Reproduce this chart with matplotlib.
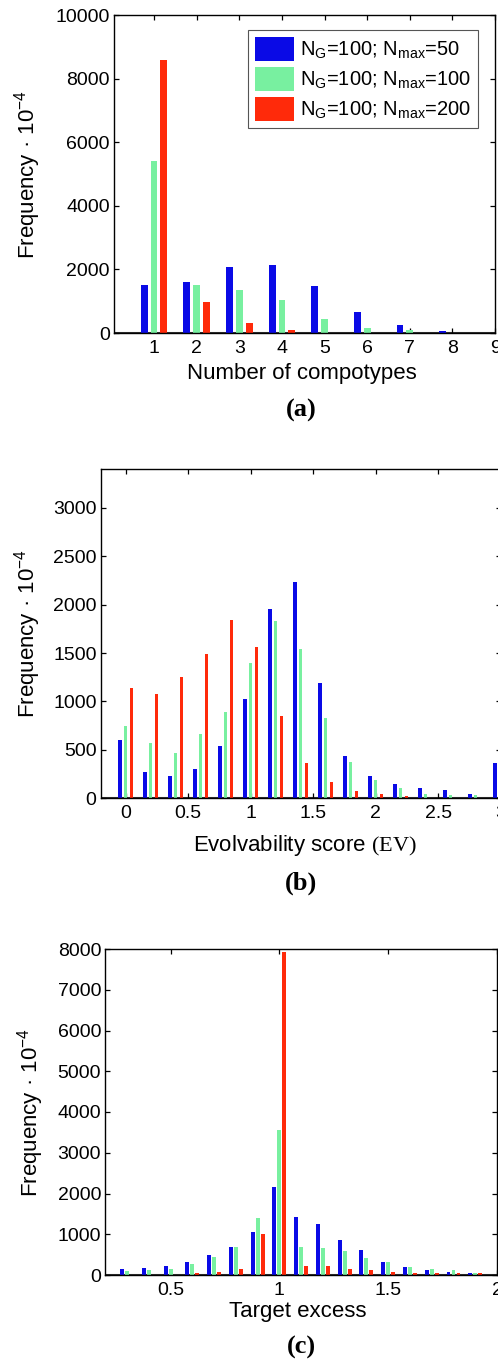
import matplotlib
matplotlib.use('Agg')
import matplotlib.pyplot as plt
import numpy as np


# цвета серий (как jet(3) в MATLAB, немного приглушённые)
colors = ['#0a0ae6', '#78f0a0', '#ff2a0a']
labels = [r'N$_{\rm G}$=100; N$_{\rm max}$=50',
          r'N$_{\rm G}$=100; N$_{\rm max}$=100',
          r'N$_{\rm G}$=100; N$_{\rm max}$=200']

# (a) число компотипов
comp_x = [1, 2, 3, 4, 5, 6, 7, 8, 9]
comp_50 = [1520, 1600, 2080, 2130, 1470, 660, 260, 50, 10]
comp_100 = [5410, 1520, 1340, 1030, 450, 150, 110, 10, 5]
comp_200 = [8580, 975, 315, 100, 10, 0, 0, 0, 0]

# (b) evolvability score
ev_x = [0.0, 0.2, 0.4, 0.6, 0.8, 1.0, 1.2, 1.4, 1.6, 1.8, 2.0, 2.2, 2.4, 2.6, 2.8, 3.0]
ev_50 = [600, 270, 230, 300, 535, 1025, 1955, 2230, 1190, 438, 231, 145, 103, 86, 41, 369]
ev_100 = [750, 576, 472, 659, 893, 1397, 1834, 1541, 834, 376, 186, 110, 41, 31, 34, 0]
ev_200 = [1135, 1080, 1252, 1490, 1838, 1566, 852, 369, 166, 76, 41, 24, 5, 3, 0, 0]

# (c) target excess
te_x = [0.3, 0.4, 0.5, 0.6, 0.7, 0.8, 0.9, 1.0, 1.1, 1.2, 1.3, 1.4, 1.5, 1.6, 1.7, 1.8, 1.9]
te_50 = [139, 180, 213, 327, 491, 679, 1064, 2158, 1419, 1255, 859, 613, 327, 204, 123, 82, 40]
te_100 = [98, 123, 139, 262, 450, 679, 1407, 3569, 689, 673, 597, 409, 327, 204, 139, 123, 57]
te_200 = [10, 10, 0, 41, 82, 147, 1009, 7916, 221, 221, 139, 123, 82, 57, 41, 41, 41]


plt.rcParams['font.family'] = 'Liberation Sans'
plt.rcParams['mathtext.fontset'] = 'custom'
plt.rcParams['mathtext.rm'] = 'Liberation Sans'
plt.rcParams['mathtext.it'] = 'Liberation Sans'
plt.rcParams['mathtext.sf'] = 'Liberation Sans'
# tt используется только для "(EV)", которое в оригинале набрано антиквой
plt.rcParams['mathtext.tt'] = 'Liberation Serif'

W, H = 498, 1368
fig = plt.figure(figsize=(W / 100, H / 100), dpi=100)


# оси по пиксельным границам
def add_axes_px(left, right, top, bottom):
    return fig.add_axes([left / W, (H - bottom) / H, (right - left) / W, (bottom - top) / H])


# сгруппированные столбики как bar(x, Y) в MATLAB
def grouped_bars(ax, x, series, step, width=0.16, shift=0.23):
    x = np.asarray(x)
    handles = []
    for k, (vals, c) in enumerate(zip(series, colors)):
        h = ax.bar(x + (k - 1) * shift * step, vals, width=width * step,
                   color=c, edgecolor='none', zorder=2)
        handles.append(h)
    ax.axhline(0, color='#303030', lw=2.2, zorder=1.5)
    return handles


def style_axes(ax, ylab_x, xlab_x, xlab_y):
    ax.tick_params(direction='in', top=True, right=True, length=3.5, width=0.9,
                   labelsize=14, pad=5)
    ax.tick_params(axis='y', pad=3)
    for s in ax.spines.values():
        s.set_linewidth(1.0)
    ax.set_ylabel('Frequency \u00b7 10$^{-4}$', fontsize=16)
    ax.yaxis.set_label_coords(ylab_x, 0.5)
    ax.xaxis.set_label_coords(xlab_x, xlab_y)


# (a)
ax1 = add_axes_px(114, 495, 15, 333)
hs = grouped_bars(ax1, comp_x, [comp_50, comp_100, comp_200], 1.0)
ax1.set_xlim(0.06, 9.0)
ax1.set_ylim(0, 10000)
ax1.set_xticks(comp_x)
ax1.set_yticks(np.arange(0, 10001, 2000))
ax1.set_xlabel('Number of compotypes', fontsize=16)
style_axes(ax1, -0.186, 0.493, -0.094)
leg = ax1.legend(hs, labels, loc='upper right', bbox_to_anchor=(0.955, 0.953),
                 borderaxespad=0, fontsize=14.5, handlelength=1.9, handleheight=1.45,
                 handletextpad=0.3, borderpad=0.35, labelspacing=0.3,
                 fancybox=False, framealpha=1)
leg.get_frame().set_edgecolor('#555555')
leg.get_frame().set_linewidth(0.8)

# (b)
ax2 = add_axes_px(100.7, 500.7, 469, 798.3)
grouped_bars(ax2, ev_x, [ev_50, ev_100, ev_200], 0.2, width=0.14)
ax2.set_xlim(-0.2, 3.0)
ax2.set_ylim(0, 3400)
ax2.set_xticks([0, 0.5, 1, 1.5, 2, 2.5, 3])
ax2.set_xticklabels(['0', '0.5', '1', '1.5', '2', '2.5', '3'])
ax2.set_yticks(np.arange(0, 3001, 500))
ax2.set_xlabel(r'Evolvability score $\mathtt{(EV)}$', fontsize=16)
style_axes(ax2, -0.144, 0.511, -0.105)

# (c)
ax3 = add_axes_px(105.3, 497, 949, 1275)
grouped_bars(ax3, te_x, [te_50, te_100, te_200], 0.1, width=0.18)
ax3.set_xlim(0.2, 2.0)
ax3.set_ylim(0, 8000)
ax3.set_xticks([0.5, 1, 1.5, 2])
ax3.set_xticklabels(['0.5', '1', '1.5', '2'])
ax3.set_yticks(np.arange(0, 8001, 1000))
ax3.set_xlabel('Target excess', fontsize=16)
style_axes(ax3, -0.152, 0.492, -0.080)

# подписи панелей
for lab, yc in [('(a)', 410), ('(b)', 883), ('(c)', 1347)]:
    fig.text(301 / W, 1 - yc / H, lab, ha='center', va='center',
             family='Liberation Serif', weight='bold', fontsize=19)

fig.savefig('out.png', dpi=100)
